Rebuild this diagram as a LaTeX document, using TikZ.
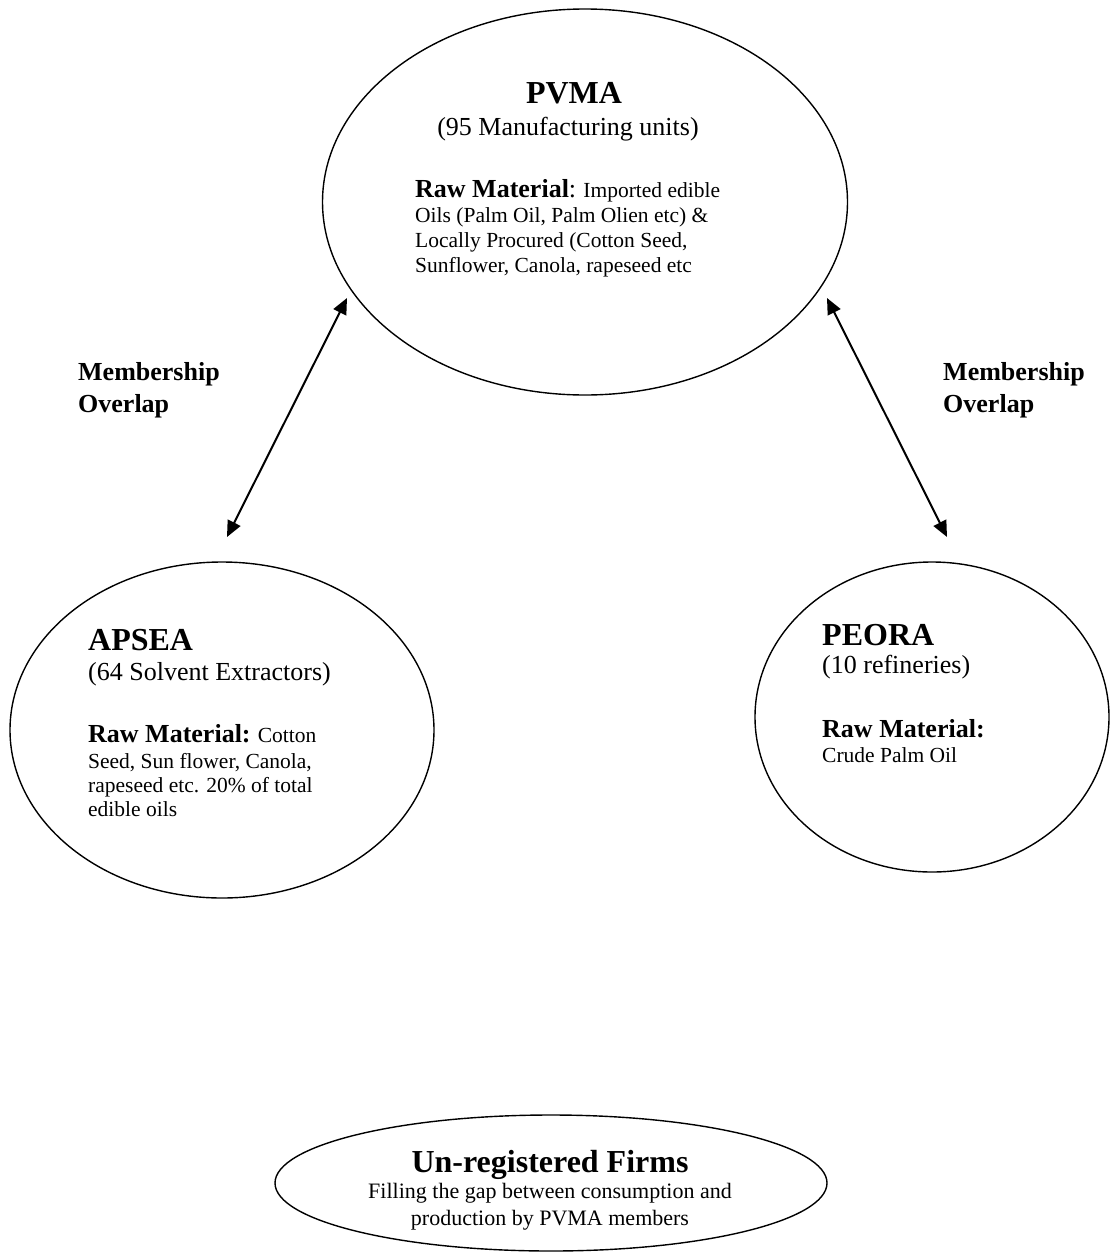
\documentclass[tikz,border=0pt]{standalone}
\usepackage{fontspec}
\setmainfont{Liberation Serif}
\usetikzlibrary{shapes.geometric,arrows.meta}
\begin{document}
\begin{tikzpicture}[x=1pt,y=-1pt,
  oval/.style={ellipse,draw,line width=1.4pt,inner sep=0pt},
  head/.style={font=\bfseries\fontsize{32}{38}\selectfont,inner sep=0pt},
  sub/.style={font=\fontsize{26}{30}\selectfont,inner sep=0pt},
  body/.style={font=\fontsize{21.5}{25}\selectfont,inner sep=0pt},
  ubody/.style={font=\fontsize{22}{26}\selectfont,inner sep=0pt},
  memb/.style={font=\bfseries\fontsize{26}{30}\selectfont,inner sep=0pt},
  twoway/.style={line width=2pt,{Triangle[length=16pt,width=14pt]}-{Triangle[length=16pt,width=14pt]}}]
\useasboundingbox (0,0) rectangle (1110,1253);
% ellipses
\node[oval,minimum width=525pt,minimum height=386pt] (pvma) at (585,202) {};
\node[oval,minimum width=424pt,minimum height=336pt] (apsea) at (222,730) {};
\node[oval,minimum width=354pt,minimum height=310pt] (peora) at (932,717) {};
\node[oval,minimum width=552pt,minimum height=136pt] (unreg) at (551,1183) {};
% PVMA text
\node[head,anchor=base] (pvmah) at (574,103) {PVMA};
\node[sub,anchor=base] (pvmas) at (568,135) {(95 Manufacturing units)};
\node[body,anchor=base west] (pvmal1) at (415,197) {{\bfseries\fontsize{26}{30}\selectfont Raw Material}{\fontsize{26}{30}\selectfont:} Imported edible};
\node[body,anchor=base west] (pvmal2) at (415,222) {Oils (Palm Oil, Palm Olien etc) \&};
\node[body,anchor=base west] (pvmal3) at (415,247) {Locally Procured (Cotton Seed,};
\node[body,anchor=base west] (pvmal4) at (415,272) {Sunflower, Canola, rapeseed etc};
% APSEA text
\node[head,anchor=base west] (apseah) at (88,650) {APSEA};
\node[sub,anchor=base west] (apseas) at (88,680) {(64 Solvent Extractors)};
\node[body,anchor=base west] (apseal1) at (88,742) {{\bfseries\fontsize{26}{30}\selectfont Raw Material:} Cotton};
\node[body,anchor=base west] (apseal2) at (88,768) {Seed, Sun flower, Canola,};
\node[body,anchor=base west] (apseal3) at (88,792) {rapeseed etc. 20\% of total};
\node[body,anchor=base west] (apseal4) at (88,816) {edible oils};
% PEORA text
\node[head,anchor=base west] (peorah) at (822,645) {PEORA};
\node[sub,anchor=base west] (peoras) at (822,673) {(10 refineries)};
\node[memb,anchor=base west] (peoral1) at (822,737) {Raw Material:};
\node[body,anchor=base west] (peoral2) at (822,762) {Crude Palm Oil};
% Unregistered
\node[head,anchor=base] (unregh) at (550,1172) {Un-registered Firms};
\node[ubody,anchor=base] (unregl1) at (550,1198) {Filling the gap between consumption and};
\node[ubody,anchor=base] (unregl2) at (550,1225) {production by PVMA members};
% membership labels
\node[memb,anchor=base west] (ml1) at (78,380) {Membership};
\node[memb,anchor=base west] (ml2) at (78,412) {Overlap};
\node[memb,anchor=base west] (mr1) at (943,380) {Membership};
\node[memb,anchor=base west] (mr2) at (943,412) {Overlap};
% arrows
\coordinate (la) at (347,298);
\coordinate (lb) at (227,537);
\coordinate (ra) at (827,298);
\coordinate (rb) at (947,537);
\draw[twoway] (lb) -- (la);
\draw[twoway] (rb) -- (ra);
\end{tikzpicture}
\end{document}
